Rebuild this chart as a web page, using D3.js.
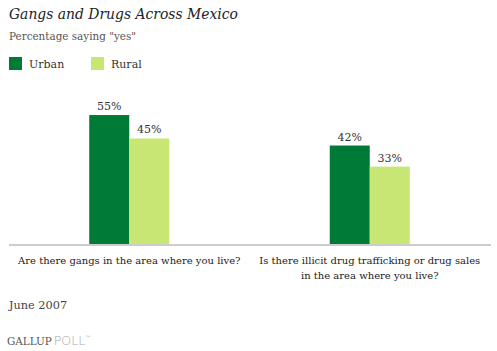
<!DOCTYPE html>
<html>
<head>
<meta charset="utf-8">
<script src="https://cdn.jsdelivr.net/npm/d3@7"></script>
<style>
  html, body { margin: 0; padding: 0; background: #fff; }
  text { font-family: "DejaVu Serif", serif; fill: #333; }
</style>
</head>
<body>
<svg id="chart" width="497" height="351"></svg>
<script>
const categories = [
  ["Are there gangs in the area where you live?"],
  ["Is there illicit drug trafficking or drug sales", "in the area where you live?"]
];
const seriesNames = ["Urban", "Rural"];
const urbanValues = [55, 42];
const ruralValues = [45, 33];
const colors = ["#007a37", "#c8e673"];

const svg = d3.select("#chart");
const left = 9, right = 490, baseline = 244;

const x0 = d3.scaleBand().domain(d3.range(categories.length)).range([left, right]).padding(0);
const x1 = d3.scaleBand().domain(seriesNames).range([0, 80]);
const y = d3.scaleLinear().domain([0, 100]).range([baseline, baseline - 234.5]);

// Title etc.
svg.append("text").attr("x", 9).attr("y", 19)
  .style("font-style", "italic").style("font-size", "13.9px").style("fill", "#222")
  .text("Gangs and Drugs Across Mexico");
svg.append("text").attr("x", 9).attr("y", 40)
  .style("font-size", "10.4px").style("fill", "#555")
  .text('Percentage saying "yes"');

// Legend
const legendX = [9, 91];
seriesNames.forEach((s, i) => {
  svg.append("rect").attr("x", legendX[i]).attr("y", 57).attr("width", 13).attr("height", 13).attr("fill", colors[i]);
  svg.append("text").attr("x", legendX[i] + 20).attr("y", 68)
    .style("font-size", "11px").style("fill", "#333").text(s);
});

const data = categories.map((c, i) => ({ cat: c, vals: [urbanValues[i], ruralValues[i]] }));

const g = svg.selectAll("g.group").data(data).enter().append("g")
  .attr("class", "group")
  .attr("transform", (d, i) => `translate(${x0(i) + x0.bandwidth() / 2 - 40},0)`);

g.selectAll("rect").data(d => d.vals.map((v, j) => ({ v, s: seriesNames[j], j })))
  .enter().append("rect")
  .attr("x", d => x1(d.s))
  .attr("width", x1.bandwidth())
  .attr("y", d => y(d.v))
  .attr("height", d => baseline - y(d.v))
  .attr("fill", d => colors[d.j]);

g.selectAll("text.val").data(d => d.vals.map((v, j) => ({ v, s: seriesNames[j] })))
  .enter().append("text").attr("class", "val")
  .attr("x", d => x1(d.s) + x1.bandwidth() / 2)
  .attr("y", d => y(d.v) - 5)
  .attr("text-anchor", "middle")
  .style("font-size", "11px").style("fill", "#333")
  .text(d => d.v + "%");

// axis line
svg.append("line").attr("x1", left).attr("x2", right + 1).attr("y1", 245).attr("y2", 245)
  .attr("stroke", "#cccccc").attr("stroke-width", 2);

// category labels
g.each(function(d) {
  const t = d3.select(this).append("text").attr("text-anchor", "middle")
    .style("font-size", "10px").style("fill", "#222");
  d.cat.forEach((line, k) => {
    t.append("tspan").attr("x", 40).attr("y", 264 + k * 15).text(line);
  });
});

svg.append("text").attr("x", 9).attr("y", 309)
  .style("font-size", "11.3px").style("fill", "#444").text("June 2007");

const gl = svg.append("text").attr("x", 7).attr("y", 345);
gl.append("tspan").style("fill", "#555").style("font-size", "10.4px").style("font-family", "'DejaVu Serif', serif").text("GALLUP");
gl.append("tspan").attr("dx", 2).style("fill", "#a8a8a8").style("font-size", "12.5px").style("font-family", "'DejaVu Sans', sans-serif").style("font-weight", "300").text("POLL");
gl.append("tspan").attr("dy", -5).style("fill", "#a8a8a8").style("font-size", "6px").style("font-family", "'DejaVu Sans', sans-serif").text("\u2122");
</script>
</body>
</html>
